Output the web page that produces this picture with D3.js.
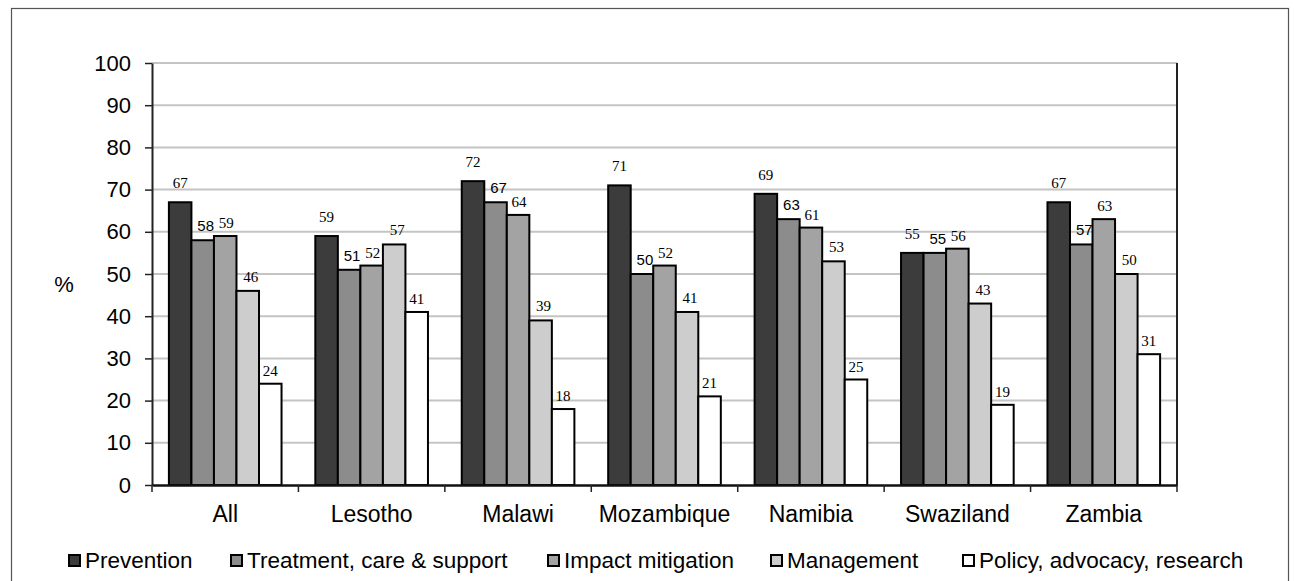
<!DOCTYPE html>
<html>
<head>
<meta charset="utf-8">
<script src="https://cdn.jsdelivr.net/npm/d3@7"></script>
<style>
  html, body { margin: 0; padding: 0; background: #fff; }
  svg { display: block; }
</style>
</head>
<body>
<script>
// Share of spending by programme area, per country (%)
const countries = ["All", "Lesotho", "Malawi", "Mozambique", "Namibia", "Swaziland", "Zambia"];
const seriesNames = ["Prevention", "Treatment, care & support", "Impact mitigation", "Management", "Policy, advocacy, research"];
const prevention = [67, 59, 72, 71, 69, 55, 67];
const treatment  = [58, 51, 67, 50, 63, 55, 57];
const impact     = [59, 52, 64, 52, 61, 56, 63];
const management = [46, 57, 39, 41, 53, 43, 50];
const policy     = [24, 41, 18, 21, 25, 19, 31];
const yTicks = [0, 10, 20, 30, 40, 50, 60, 70, 80, 90, 100];

const seriesValues = [prevention, treatment, impact, management, policy];
const fills = ["#3c3c3c", "#8c8c8c", "#a3a3a3", "#cdcdcd", "#ffffff"];
const labelFonts = ["'Liberation Serif', serif", "'Liberation Sans', Arial, sans-serif",
                    "'Liberation Serif', serif", "'Liberation Serif', serif", "'Liberation Serif', serif"];
const labelGap = [14, 9, 8, 9, 8];
const labelShift = [0, 3, 1, 3, 0];

const W = 1294, H = 581;
const svg = d3.select("body").append("svg").attr("width", W).attr("height", H);

// outer frame
svg.append("rect").attr("x", 11.5).attr("y", 8.5).attr("width", 1277).attr("height", 600)
  .attr("fill", "none").attr("stroke", "#555").attr("stroke-width", 1.2);

const plotLeft = 152, plotRight = 1177, plotTop = 63, plotBottom = 485;

const x0 = d3.scaleBand().domain(countries).range([plotLeft, plotRight]).paddingInner(0).paddingOuter(0);
const x1 = d3.scaleBand().domain(d3.range(seriesNames.length))
  .range([0, x0.bandwidth()]).paddingOuter(0.75).paddingInner(0);
const y = d3.scaleLinear().domain([0, 100]).range([plotBottom, plotTop]);

// gridlines
svg.append("g").selectAll("line").data(yTicks.filter(d => d > 0)).join("line")
  .attr("x1", plotLeft).attr("x2", plotRight)
  .attr("y1", d => y(d)).attr("y2", d => y(d))
  .attr("stroke", "#c4c4c4").attr("stroke-width", 2);

// right border of plot area
svg.append("line").attr("x1", plotRight).attr("x2", plotRight).attr("y1", plotTop).attr("y2", plotBottom)
  .attr("stroke", "#222").attr("stroke-width", 2);

// bars
const groups = svg.append("g").selectAll("g").data(countries).join("g")
  .attr("transform", d => `translate(${x0(d)},0)`);

groups.selectAll("rect").data((c, ci) => seriesValues.map((vals, si) => ({ si, v: vals[ci] })))
  .join("rect")
  .attr("x", d => x1(d.si))
  .attr("y", d => y(d.v))
  .attr("width", x1.bandwidth())
  .attr("height", d => y(0) - y(d.v))
  .attr("fill", d => fills[d.si])
  .attr("stroke", "#000").attr("stroke-width", 2);

groups.selectAll("text").data((c, ci) => seriesValues.map((vals, si) => ({ si, v: vals[ci] })))
  .join("text")
  .attr("x", d => x1(d.si) + x1.bandwidth() / 2 + labelShift[d.si])
  .attr("y", d => y(d.v) - labelGap[d.si])
  .attr("text-anchor", "middle")
  .attr("font-family", d => labelFonts[d.si])
  .attr("font-size", 15)
  .attr("fill", "#000")
  .text(d => d.v);

// y axis
const yAxis = svg.append("g").attr("transform", `translate(${plotLeft},0)`)
  .call(d3.axisLeft(y).tickValues(yTicks).tickSize(7).tickPadding(14).tickSizeOuter(0));
yAxis.select(".domain").attr("stroke", "#222").attr("stroke-width", 2);
yAxis.selectAll(".tick line").attr("stroke", "#222").attr("stroke-width", 1.5);
yAxis.selectAll(".tick text").attr("font-family", "'Liberation Sans', Arial, sans-serif")
  .attr("font-size", 22).attr("fill", "#000");

// x axis
const xAxis = svg.append("g").attr("transform", `translate(0,${plotBottom})`)
  .call(d3.axisBottom(x0).tickSize(0).tickPadding(21));
xAxis.select(".domain").attr("stroke", "#111").attr("stroke-width", 2.5);
xAxis.selectAll(".tick text").attr("font-family", "'Liberation Sans', Arial, sans-serif")
  .attr("font-size", 23).attr("fill", "#000");
// category boundary ticks
svg.append("g").selectAll("line").data(d3.range(countries.length + 1)).join("line")
  .attr("x1", i => plotLeft + i * x0.step()).attr("x2", i => plotLeft + i * x0.step())
  .attr("y1", plotBottom).attr("y2", plotBottom + 7)
  .attr("stroke", "#222").attr("stroke-width", 1.5);

// y axis title
svg.append("text").attr("x", 64).attr("y", 292).attr("text-anchor", "middle")
  .attr("font-family", "'Liberation Sans', Arial, sans-serif").attr("font-size", 22)
  .text("%");

// legend
const legendX = [68, 230, 547, 770, 962];
const legend = svg.append("g").selectAll("g").data(seriesNames).join("g")
  .attr("transform", (d, i) => `translate(${legendX[i]},554)`);
legend.append("rect").attr("x", 1).attr("y", 1).attr("width", 11).attr("height", 11)
  .attr("fill", (d, i) => fills[i]).attr("stroke", "#000").attr("stroke-width", 2);
legend.append("text").attr("x", 17).attr("y", 14)
  .attr("font-family", "'Liberation Sans', Arial, sans-serif").attr("font-size", 22.5)
  .text(d => d);
</script>
</body>
</html>
